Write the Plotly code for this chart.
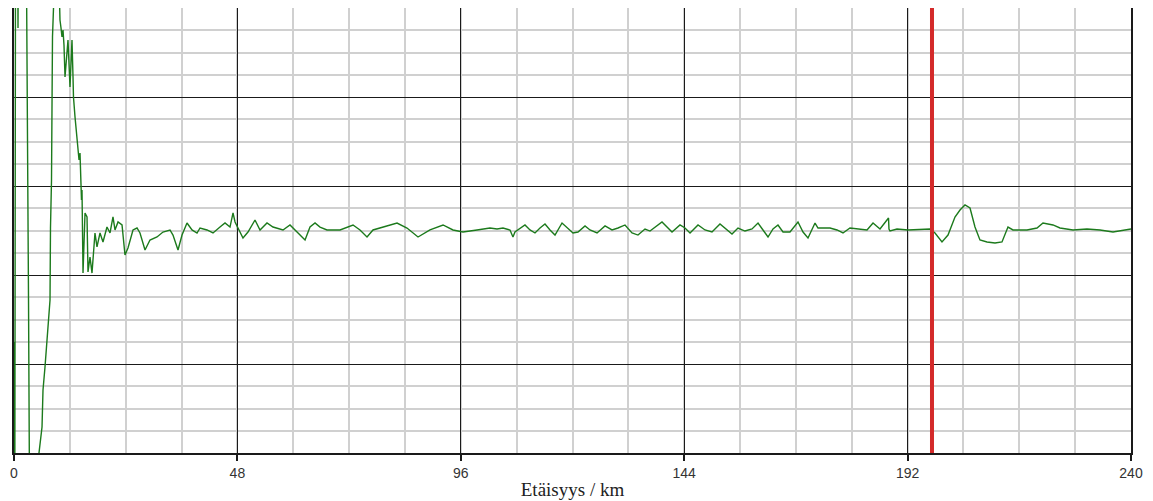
import plotly.graph_objects as go

# distance along route (km)
distance_km = [
    0.0, 0.17, 0.34, 0.75, 0.86, 0.97, 2.58, 2.75, 2.90, 3.12, 3.29, 3.40,
    4.94, 5.37, 6.02, 6.23, 6.66, 7.09, 7.31, 7.74, 7.84, 8.06, 8.16, 8.27,
    8.49, 8.70, 9.56, 9.78, 9.88, 10.10, 10.31, 10.53, 10.74, 10.96, 11.39,
    11.60, 12.03, 12.46, 12.68, 12.78, 13.11, 13.54, 13.75, 13.97, 14.18,
    14.29, 14.50, 14.61, 14.83, 15.26, 15.69, 15.90, 16.33, 16.76, 17.40,
    17.83, 18.48, 19.12, 19.98, 20.63, 21.27, 21.70, 22.35, 23.21, 23.85,
    24.49, 25.57, 26.43, 27.07, 28.15, 29.22, 30.73, 32.01, 33.52, 34.16,
    35.24, 36.10, 37.17, 38.25, 39.32, 39.97, 41.47, 42.76, 44.26, 45.34,
    46.41, 47.06, 47.49, 48.13, 49.20, 50.28, 51.78, 52.86, 54.36, 55.65,
    57.80, 59.30, 60.81, 62.53, 63.60, 64.68, 65.75, 67.25, 70.05, 72.84,
    74.34, 75.85, 77.14, 79.29, 82.30, 84.44, 86.81, 89.38, 92.18, 94.33,
    96.47, 99.48, 102.27, 103.78, 105.07, 106.57, 107.21, 107.64, 108.72,
    109.79, 110.87, 111.94, 113.02, 114.09, 115.17, 116.24, 117.75, 118.82,
    120.11, 121.18, 122.69, 123.76, 125.27, 126.99, 128.49, 129.78, 131.28,
    132.79, 134.07, 135.58, 136.65, 139.23, 140.30, 141.38, 143.10, 144.17,
    145.25, 146.97, 148.47, 149.97, 151.69, 153.20, 154.27, 155.56, 157.06,
    158.57, 159.86, 160.93, 162.01, 163.08, 164.15, 165.23, 166.73, 168.45,
    169.53, 170.60, 172.11, 172.75, 173.82, 175.33, 176.83, 178.12, 179.62,
    181.13, 183.28, 184.57, 186.07, 187.90, 188.00, 188.22, 189.72, 192.09,
    196.81, 197.89, 199.39, 200.68, 202.18, 203.26, 204.33, 205.41, 206.48,
    207.55, 209.06, 210.78, 212.28, 213.57, 214.64, 217.65, 219.80, 221.09,
    223.24, 224.74, 227.54, 230.54, 233.34, 236.13, 240.0,
]

# measured deviation (arbitrary units)
deviation = [
    -12.53, -32.5, 37.1, 37.1, 22.75, 37.1, 37.1, 25.0, 14.66, -7.81, -25.0,
    -41.5, -41.5, -25.0, -22.08, -17.92, -15.34, -12.3, -10.62, -7.81, 0.28,
    5.67, 13.54, 21.74, 25.0, 30.4, 30.4, 25.0, 23.65, 22.75, 21.74, 22.53,
    20.84, 17.25, 20.62, 21.40, 16.12, 21.40, 17.25, 15.0, 12.75, 9.83, 9.38,
    7.92, 8.71, 5.11, 3.43, 4.55, -4.78, 1.97, 1.52, -4.66, -2.98, -4.78,
    -0.28, -1.85, -0.28, -1.29, 0.39, -0.28, 1.52, 0.06, 0.96, 0.62, -2.75,
    -1.97, 0.06, 0.28, -0.28, -2.19, -1.07, -0.73, -0.17, 0.06, -0.51, -2.19,
    -0.51, 0.84, 0.06, -0.28, 0.28, 0.06, -0.28, 0.39, 0.84, 0.39, 1.97,
    0.96, 0.28, -0.84, -0.17, 1.18, 0.06, 0.84, 0.39, 0.06, 0.62, -0.17,
    -1.07, 0.39, 0.84, 0.39, 0.06, 0.06, 0.62, 0.06, -0.73, 0.06, 0.39, 0.84,
    0.28, -0.73, 0.06, 0.62, 0.06, -0.17, 0.06, 0.28, 0.17, 0.28, 0.06,
    -0.73, -0.17, 0.28, 0.62, 0.06, -0.28, 0.28, 0.73, 0.06, -0.51, 0.84,
    0.28, -0.28, -0.17, 0.51, 0.06, -0.28, 0.51, 0.06, 0.28, 0.62, -0.28,
    -0.51, 0.17, -0.06, 0.96, 0.39, -0.17, 0.62, 0.28, -0.28, 0.62, 0.06,
    -0.17, 0.73, 0.06, -0.39, 0.28, -0.06, 0.17, 0.84, 0.06, -0.73, 0.17,
    0.62, -0.17, -0.17, 0.96, -0.17, -0.84, 0.84, 0.28, 0.28, 0.28, 0.06,
    -0.28, 0.28, 0.17, 0.06, 0.84, 0.17, 1.40, 0.17, -0.06, 0.17, 0.06, 0.17,
    -0.28, -1.29, -0.51, 1.52, 2.30, 2.87, 2.53, 0.39, -1.07, -1.29, -1.40,
    -1.29, 0.39, 0.06, 0.06, 0.28, 0.84, 0.62, 0.28, 0.06, 0.17, 0.06, -0.17,
    0.17,
]

marker_km = 197.24
x_tick_values = [0, 48, 96, 144, 192, 240]
x_tick_labels = ["0", "48", "96", "144", "192", "240"]
x_title = "Etäisyys / km"

fig = go.Figure()
fig.add_trace(go.Scatter(
    x=distance_km, y=deviation, mode="lines",
    line=dict(color="#1c7a1c", width=1.4),
    hoverinfo="skip", showlegend=False,
))

fig.add_shape(type="line", xref="x", yref="paper",
              x0=marker_km, x1=marker_km, y0=0, y1=1,
              line=dict(color="#d42a2a", width=4))

fig.update_layout(
    width=1145, height=493,
    margin=dict(l=6, r=22, t=0, b=48),
    paper_bgcolor="white", plot_bgcolor="white",
    font=dict(family="Liberation Sans, Arial, sans-serif", size=14, color="#333"),
)

fig.update_xaxes(
    range=[0, 240], tickmode="array", tickvals=x_tick_values, ticktext=x_tick_labels,
    showgrid=True, gridcolor="#1a1a1a", gridwidth=1,
    minor=dict(dtick=12, tick0=0, showgrid=True, gridcolor="#d0d0d0", gridwidth=2),
    showline=True, linecolor="#1a1a1a", linewidth=1.5, mirror=True,
    ticks="outside", ticklen=6, tickcolor="#1a1a1a", tickwidth=1.5,
    zeroline=False, automargin=False,
    title=dict(text=x_title, standoff=3,
               font=dict(family="Liberation Serif, Times New Roman, serif", size=19, color="#222")),
)
fig.update_yaxes(
    range=[-25, 25], tick0=-25, dtick=10,
    showgrid=True, gridcolor="#1a1a1a", gridwidth=1,
    minor=dict(dtick=2.5, tick0=-25, showgrid=True, gridcolor="#d0d0d0", gridwidth=2),
    showline=True, linecolor="#1a1a1a", linewidth=1.5, mirror=True,
    showticklabels=False, ticks="", zeroline=False, automargin=False,
)

fig.write_html("out.html")
